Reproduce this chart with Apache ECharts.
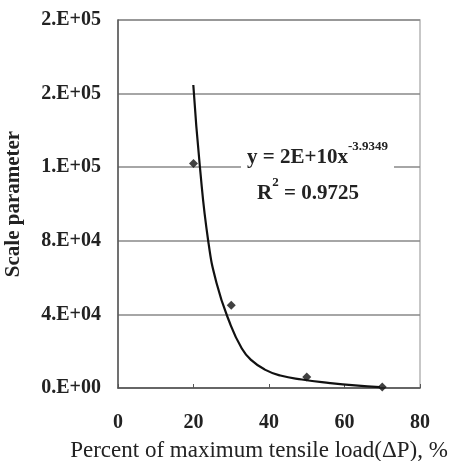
<!DOCTYPE html>
<html>
<head>
<meta charset="utf-8">
<script src="https://cdn.jsdelivr.net/npm/echarts@6/dist/echarts.min.js"></script>
<style>
  html, body { margin: 0; padding: 0; background: #fff; }
  #chart { width: 461px; height: 461px; }
</style>
</head>
<body>
<div id="chart"></div>
<script>
// measured points
const loadPct = [20, 30, 50, 70];
const scaleParam = [122000, 45000, 6000, 500];

// power trendline
const trendX = [19.95, 21.7, 23.9, 26.1, 29.5, 32.8, 35.4, 38.9, 43.0, 48.7, 56.2, 62.8, 69.4];
const trendY = [164700, 120100, 79900, 57100, 36000, 21500, 15000, 10000, 6800, 4600, 2700, 1400, 500];

const xTicks = [0, 20, 40, 60, 80];
const yTickLabels = ["0.E+00", "4.E+04", "8.E+04", "1.E+05", "2.E+05", "2.E+05"];

const serif = "'Liberation Serif', 'DejaVu Serif', serif";

const chart = echarts.init(document.getElementById("chart"), null, { renderer: "canvas" });

chart.setOption({
  animation: false,
  backgroundColor: "#fff",
  textStyle: { fontFamily: serif, color: "#222" },
  grid: {
    left: 118, right: 41, top: 20, bottom: 73,
    outerBoundsMode: "none", containLabel: false,
    show: true, borderColor: "#b5b5b5", borderWidth: 1.5
  },
  xAxis: {
    type: "value",
    min: xTicks[0],
    max: xTicks[xTicks.length - 1],
    interval: 20,
    name: "Percent of maximum tensile load(\u0394P), %",
    nameLocation: "middle",
    nameGap: 51,
    nameTextStyle: { fontFamily: serif, fontSize: 23, color: "#222", padding: [0, 20, 0, 0] },
    axisLine: { lineStyle: { color: "#555", width: 1.5 } },
    axisTick: { inside: true, length: 4, lineStyle: { color: "#555" } },
    axisLabel: { fontFamily: serif, fontWeight: "bold", fontSize: 20, color: "#222", margin: 25 },
    splitLine: { show: false }
  },
  yAxis: {
    type: "value",
    min: 0,
    max: 200000,
    interval: 40000,
    name: "Scale parameter",
    nameLocation: "middle",
    nameGap: 94,
    nameTextStyle: { fontFamily: serif, fontWeight: "bold", fontSize: 21, color: "#222" },
    axisLine: { show: true, lineStyle: { color: "#555", width: 1.5 } },
    axisTick: { show: false },
    axisLabel: {
      fontFamily: serif, fontWeight: "bold", fontSize: 20, color: "#222", margin: 17,
      formatter: (v) => yTickLabels[Math.round(v / 40000)]
    },
    splitLine: { lineStyle: { color: "#888", width: 1.5 } }
  },
  graphic: [
    {
      type: "text",
      left: 241,
      top: 136,
      z: 10,
      style: {
        backgroundColor: "#fff",
        padding: [4, 6, 4, 6],
        text: "{b|y = 2E+10x}{s|-3.9349}\n   {b|R}{s|2}{b| = 0.9725}",
        rich: {
          b: { fontFamily: serif, fontWeight: "bold", fontSize: 21, fill: "#222", lineHeight: 36 },
          s: { fontFamily: serif, fontWeight: "bold", fontSize: 13, fill: "#222", verticalAlign: "top", lineHeight: 32 }
        }
      }
    }
  ],
  series: [
    {
      type: "line",
      data: trendX.map((x, i) => [x, trendY[i]]),
      smooth: 0.5,
      symbol: "none",
      lineStyle: { color: "#111", width: 2.2 },
      z: 3
    },
    {
      type: "scatter",
      data: loadPct.map((x, i) => [x, scaleParam[i]]),
      symbol: "diamond",
      symbolSize: 9,
      itemStyle: { color: "#111" },
      z: 4
    }
  ]
});
</script>
</body>
</html>
